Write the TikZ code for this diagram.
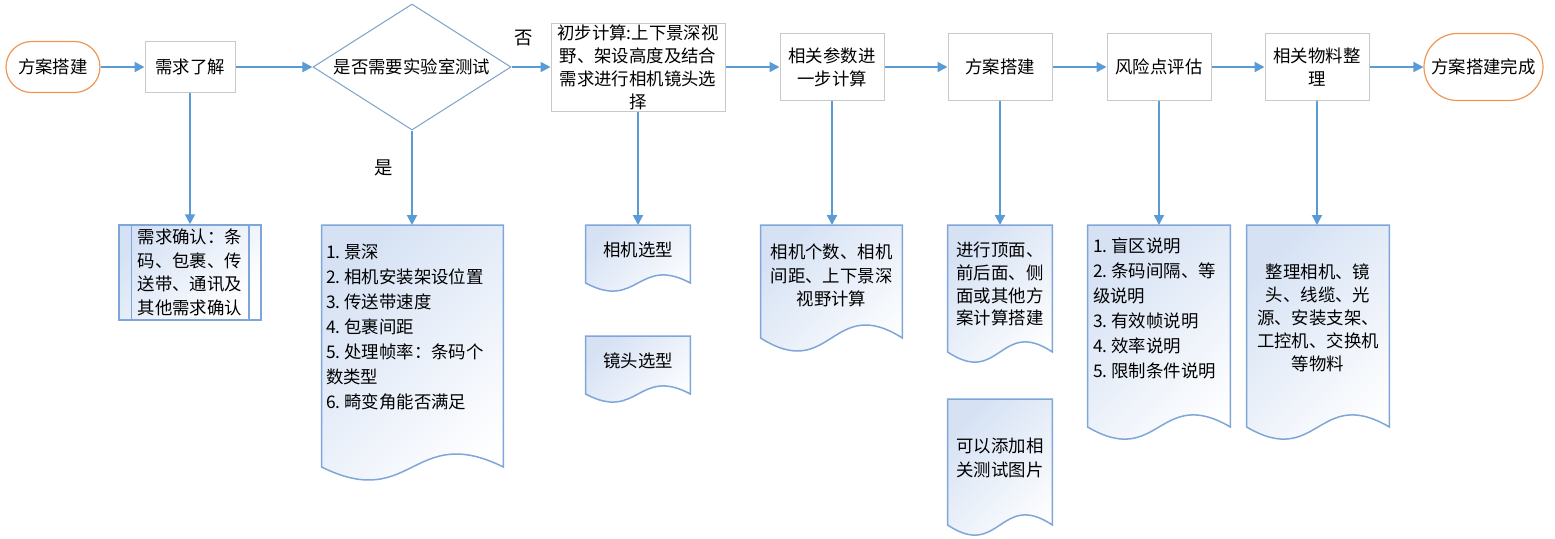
\documentclass[tikz,border=0pt]{standalone}
\usepackage{fontspec}
\newfontfamily\cjk{Noto Sans CJK SC}
\usepackage{tikz}
\usetikzlibrary{calc, positioning, arrows.meta, shapes.geometric, backgrounds}
\definecolor{linkBlue}{RGB}{91, 155, 213}
\definecolor{docLine}{RGB}{126, 166, 216}
\definecolor{docFill}{RGB}{214, 226, 244}
\definecolor{termOrange}{RGB}{240, 150, 85}
\definecolor{boxGray}{RGB}{200, 200, 200}
\definecolor{decLine}{RGB}{125, 160, 205}

% document outline with wavy bottom: node, height, wave
\newcommand{\docframe}[3]{%
  \path (#1.north west) ++(0,#2) coordinate (#1-sw)
        (#1.north east) ++(0,#2) coordinate (#1-se);
  \shadedraw[docshape] (#1.north west) -- (#1.north east) -- (#1-se)
    .. controls ($(#1-se)!0.5!(#1-sw)+(0,-#3)$) and ($(#1-se)!0.5!(#1-sw)+(0,#3)$) .. (#1-sw) -- cycle;
}
\newcommand{\nr}[1]{#1.\hspace{2pt}}

\begin{document}
\begin{tikzpicture}[x=0.5pt, y=-0.5pt, font=\cjk\fontsize{8.7}{11.6}\selectfont,
  link/.style={draw=linkBlue, line width=1pt, -{Triangle[length=5pt, width=5pt]}},
  term/.style={draw=termOrange, line width=0.6pt, fill=white, inner sep=0pt},
  procbox/.style={draw=boxGray, line width=0.5pt, fill=white, align=center, inner sep=0pt,
    minimum width=52pt, minimum height=33.5pt},
  decision/.style={diamond, draw=decLine, line width=0.5pt, aspect=1.57, inner sep=0pt},
  docshape/.style={draw=docLine, line width=0.75pt, top color=docFill, bottom color=white, shading angle=45},
  docbox/.style={anchor=north, inner xsep=2pt, minimum width=52pt, align=center},
  listfont/.style={font=\cjk\fontsize{8.7}{12.5}\selectfont},
  yesno/.style={font=\cjk\fontsize{9.2}{11}\selectfont}]
  \useasboundingbox (0,0) rectangle (1555,538);

  % main row
  \node[term, rounded corners=12.75pt, minimum width=47pt, minimum height=25.5pt] (start) at (53,67) {方案搭建};
  \node[procbox, minimum width=45pt, minimum height=25.5pt] (need) at (190,67) {需求了解};
  \node[decision, minimum width=99pt, minimum height=63pt] (dec) at (412,67) {是否需要实验室测试};
  \node[procbox, minimum width=87pt, minimum height=44pt, font=\cjk\fontsize{8.7}{11.5}\selectfont] (prelim) at (638,67)
    {初步计算:上下景深视\\野、架设高度及结合\\需求进行相机镜头选\\择};
  \node[procbox] (param) at (832,67) {相关参数进\\一步计算};
  \node[procbox] (build) at (1000,67) {方案搭建};
  \node[procbox] (risk) at (1159,67) {风险点评估};
  \node[procbox] (mat) at (1317,67) {相关物料整\\理};
  \node[term, rounded corners=16.75pt, minimum width=59.5pt, minimum height=33.5pt] (done) at (1483.5,67) {方案搭建完成};

  % detail boxes
  \node[docshape, minimum width=71pt, minimum height=47.5pt, align=center, inner sep=0pt,
    font=\cjk\fontsize{8.7}{11.75}\selectfont] (confirm) at (190,272.5)
    {需求确认：条\\码、包裹、传\\送带、通讯及\\其他需求确认};
  \draw[draw=docLine, line width=0.75pt] ([xshift=6.5pt]confirm.north west) -- ([xshift=6.5pt]confirm.south west)
    ([xshift=-6.5pt]confirm.north east) -- ([xshift=-6.5pt]confirm.south east);

  \node[docbox, listfont, text width=86.5pt, align=left, inner ysep=9.3pt] (testlist) at (412.5,225)
    {\nr1景深\\\nr2相机安装架设位置\\\nr3传送带速度\\\nr4包裹间距\\\nr5处理帧率：条码个\\数类型\\\nr6畸变角能否满足};
  \node[docbox, inner ysep=8.4pt] (camsel) at (638,225) {相机选型};
  \node[docbox, inner ysep=8.4pt] (lenssel) at (638,336) {镜头选型};
  \node[docbox, minimum width=70.5pt, inner ysep=9.4pt] (camcount) at (831.5,225)
    {相机个数、相机\\间距、上下景深\\视野计算};
  \node[docbox, inner ysep=8.4pt, font=\cjk\fontsize{8.7}{11.3}\selectfont] (buildcalc) at (1000,225)
    {进行顶面、\\前后面、侧\\面或其他方\\案计算搭建};
  \node[docbox, inner ysep=19.4pt] (testpic) at (1000,399) {可以添加相\\关测试图片};
  \node[docbox, listfont, inner xsep=2.5pt, text width=66pt, align=left, inner ysep=5.9pt] (risklist) at (1159,225)
    {\nr1盲区说明\\\nr2条码间隔、等\\级说明\\\nr3有效帧说明\\\nr4效率说明\\\nr5限制条件说明};
  \node[docbox, minimum width=71pt, inner ysep=19.4pt, font=\cjk\fontsize{8.7}{11.4}\selectfont] (matlist) at (1318,225)
    {整理相机、镜\\头、线缆、光\\源、安装支架、\\工控机、交换机\\等物料};

  \begin{pgfonlayer}{background}
    \docframe{testlist}{242}{45}
    \docframe{camsel}{58}{28}
    \docframe{lenssel}{58}{28}
    \docframe{camcount}{113}{45}
    \docframe{buildcalc}{127}{35}
    \docframe{testpic}{126}{35}
    \docframe{risklist}{202}{42}
    \docframe{matlist}{202}{42}
  \end{pgfonlayer}

  % connectors
  \draw[link] (start) -- (need);
  \draw[link] (need) -- (dec);
  \draw[link] (dec) -- node[yesno, pos=0.3, above=6.5pt] {否} (prelim);
  \draw[link] (prelim) -- (param);
  \draw[link] (param) -- (build);
  \draw[link] (build) -- (risk);
  \draw[link] (risk) -- (mat);
  \draw[link] (mat) -- (done);

  \draw[link] (need.south) -- (need.south |- confirm.north);
  \draw[link] (dec.south) -- node[yesno, pos=0.4, left=5.5pt] {是} (dec.south |- testlist.north);
  \draw[link] (prelim.south) -- (prelim.south |- camsel.north);
  \draw[link] (param.south) -- (param.south |- camcount.north);
  \draw[link] (build.south) -- (build.south |- buildcalc.north);
  \draw[link] (risk.south) -- (risk.south |- risklist.north);
  \draw[link] (mat.south) -- (mat.south |- matlist.north);
\end{tikzpicture}
\end{document}
